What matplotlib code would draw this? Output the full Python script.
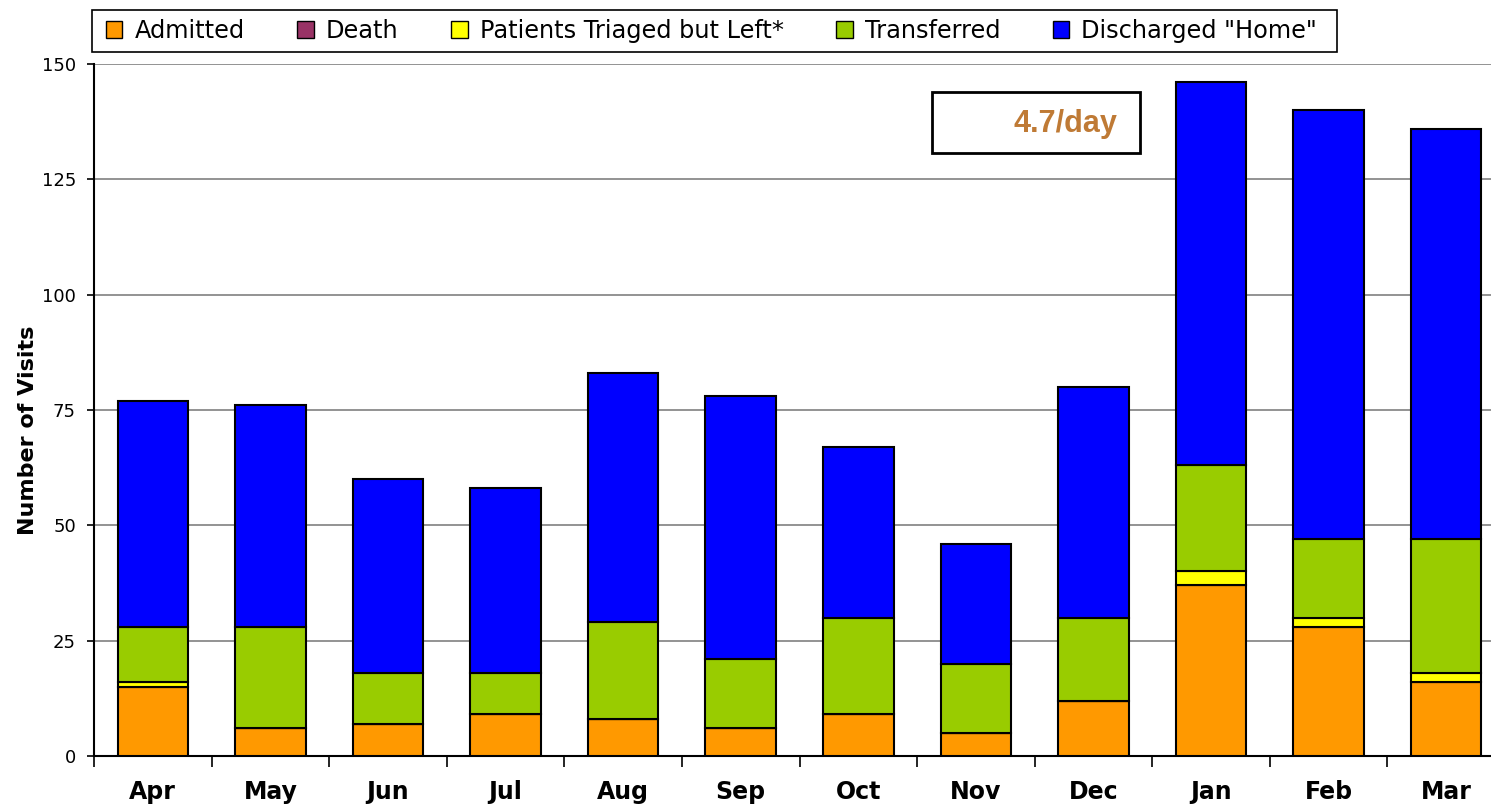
import matplotlib.pyplot as plt
import numpy as np
from matplotlib.patches import Rectangle

plt.rcParams['font.family'] = ['DejaVu Sans']

months = ['Apr', 'May', 'Jun', 'Jul', 'Aug', 'Sep', 'Oct', 'Nov', 'Dec', 'Jan', 'Feb', 'Mar']
admitted = [15, 6, 7, 9, 8, 6, 9, 5, 12, 37, 28, 16]
death = [0, 0, 0, 0, 0, 0, 0, 0, 0, 0, 0, 0]
triaged_left = [1, 0, 0, 0, 0, 0, 0, 0, 0, 3, 2, 2]
transferred = [12, 22, 11, 9, 21, 15, 21, 15, 18, 23, 17, 29]
discharged = [49, 48, 42, 40, 54, 57, 37, 26, 50, 83, 93, 89]

series = [
    ('Admitted', admitted, '#FF9900'),
    ('Death', death, '#993366'),
    ('Patients Triaged but Left*', triaged_left, '#FFFF00'),
    ('Transferred', transferred, '#99CC00'),
    ('Discharged "Home"', discharged, '#0000FF'),
]

W, H = 1491, 809
fig = plt.figure(figsize=(W / 100, H / 100), dpi=100)
ax = fig.add_axes([94 / W, 1 - 756 / H, (1505 - 94) / W, (756 - 64) / H])

x = np.arange(len(months))
bottom = np.zeros(len(months))
handles = []
for name, vals, color in series:
    vals = np.array(vals, dtype=float)
    ax.bar(x, vals, 0.6, bottom=bottom, color=color, edgecolor='black', linewidth=1.5, zorder=3)
    bottom += vals
    handles.append(Rectangle((0, 0), 1, 1, facecolor=color, edgecolor='black', linewidth=1))

ax.set_xlim(-0.5, len(months) - 0.5)
ax.set_ylim(0, 150)
ax.set_yticks(range(0, 151, 25))
ax.yaxis.grid(True, color='#808080', linewidth=1.2, zorder=0)
ax.tick_params(axis='y', labelsize=13, length=5, width=1.2, pad=8)

ax.set_xticks(x)
ax.set_xticklabels(months, fontsize=17, fontweight='bold')
ax.tick_params(axis='x', which='major', length=0, pad=17)
ax.set_xticks(np.arange(-0.5, len(months), 1), minor=True)
ax.tick_params(axis='x', which='minor', length=8, width=1.2)

ax.spines['top'].set_visible(False)
ax.spines['right'].set_visible(False)
ax.spines['left'].set_linewidth(1.5)
ax.spines['bottom'].set_linewidth(1.5)

ax.set_ylabel('Number of Visits', fontsize=16, fontweight='bold')
ax.yaxis.set_label_coords(-0.040, 0.47)

# legend frame drawn separately so its size can match the original box
frame = Rectangle((92 / W, 1 - 52 / H), (1337 - 92) / W, (52 - 10) / H,
                  transform=fig.transFigure, facecolor='white', edgecolor='black',
                  linewidth=1.2, zorder=1)
fig.add_artist(frame)
fig.legend(handles, [s[0] for s in series], loc='center left',
           bbox_to_anchor=(106 / W, 1 - 31 / H), borderaxespad=0, borderpad=0,
           ncol=5, fontsize=17.3, frameon=False,
           handlelength=0.68, handleheight=0.68, handletextpad=0.5,
           columnspacing=2.2)

box = Rectangle((932 / W, 1 - 153 / H), (1140 - 932) / W, (153 - 92) / H,
                transform=fig.transFigure, facecolor='white', edgecolor='black',
                linewidth=2, zorder=1)
fig.add_artist(box)
fig.text(1117 / W, 1 - 124 / H, '4.7/day', ha='right', va='center',
         fontsize=22, fontweight='bold', color='#BF7A35', zorder=2,
         family='Liberation Sans')

fig.savefig('out.png', dpi=100)
